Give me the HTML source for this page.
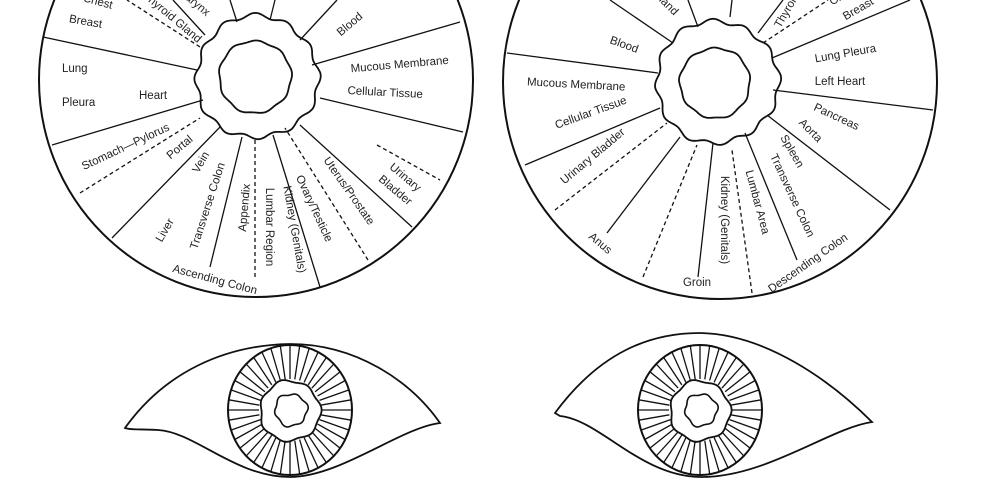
<!DOCTYPE html>
<html><head><meta charset="utf-8">
<style>
html,body{margin:0;padding:0;background:#fff;}
svg{display:block;}
text{font-family:"Liberation Sans",Arial,sans-serif;font-size:11.5px;fill:#222;}
</style></head>
<body>
<svg id="s" width="1001" height="480" viewBox="0 0 1001 480" xmlns="http://www.w3.org/2000/svg">
<defs>
<clipPath id="cl"><circle cx="256" cy="80" r="217"/></clipPath>
<clipPath id="cr"><circle cx="720" cy="82" r="217"/></clipPath>
</defs>
<g stroke="#111" fill="none" stroke-width="1.3">
<circle cx="256" cy="80" r="217" stroke-width="2"/>
<circle cx="720" cy="82" r="217" stroke-width="2"/>
<g clip-path="url(#cl)">
<line x1="43" y1="37" x2="197" y2="70"/>
<line x1="52" y1="145" x2="203" y2="100"/>
<line x1="80" y1="193" x2="200" y2="118" stroke-dasharray="4,3"/>
<line x1="112" y1="238" x2="220" y2="127"/>
<line x1="210" y1="267" x2="242" y2="137"/>
<line x1="255" y1="277" x2="255" y2="140" stroke-dasharray="4,3"/>
<line x1="320" y1="287" x2="273" y2="135"/>
<line x1="368" y1="260" x2="285" y2="128" stroke-dasharray="4,3"/>
<line x1="412" y1="227" x2="300" y2="125"/>
<line x1="463" y1="132" x2="320" y2="98"/>
<line x1="460" y1="22" x2="312" y2="65"/>
<line x1="300" y1="40" x2="337" y2="0"/>
<line x1="270" y1="20" x2="275" y2="0"/>
<line x1="237" y1="22" x2="230" y2="0"/>
<line x1="377" y1="145" x2="440" y2="180" stroke-dasharray="4,3"/>
<line x1="200" y1="47" x2="127" y2="0" stroke-dasharray="4,3"/>
<line x1="205" y1="35" x2="173" y2="0"/>
</g>
<g clip-path="url(#cr)">
<line x1="507" y1="53" x2="658" y2="73"/>
<line x1="525" y1="165" x2="660" y2="108"/>
<line x1="555" y1="210" x2="667" y2="123" stroke-dasharray="4,3"/>
<line x1="607" y1="233" x2="680" y2="137"/>
<line x1="643" y1="277" x2="697" y2="145" stroke-dasharray="4,3"/>
<line x1="698" y1="277" x2="713" y2="143"/>
<line x1="752" y1="293" x2="732" y2="150" stroke-dasharray="4,3"/>
<line x1="797" y1="260" x2="745" y2="133"/>
<line x1="890" y1="210" x2="767" y2="115"/>
<line x1="933" y1="110" x2="773" y2="90"/>
<line x1="910" y1="0" x2="772" y2="58"/>
<line x1="763" y1="43" x2="828" y2="0" stroke-dasharray="4,3"/>
<line x1="758" y1="33" x2="783" y2="0"/>
<line x1="730" y1="17" x2="732" y2="0"/>
<line x1="698" y1="27" x2="688" y2="0"/>
<line x1="673" y1="43" x2="610" y2="0"/>
</g>
<path d="M125,428 C165,372 225,345 290,344 C355,344 410,380 440,423 C400,428 340,477 290,477 C235,477 195,432 158,430 C140,429 130,430 125,428 Z" stroke-width="1.8"/>
<path d="M555,413 C600,352 650,333 700,333 C765,334 830,380 872,422 C830,428 765,478 700,477 C640,476 600,420 560,416 Z" stroke-width="1.8"/>
<g id="dyn"></g>
</g>
<g>
<text transform="translate(97,5) rotate(15)" text-anchor="middle">Chest</text>
<text transform="translate(85,25) rotate(10)" text-anchor="middle">Breast</text>
<text transform="translate(170,20) rotate(40)" text-anchor="middle">Thyroid Gland</text>
<text transform="translate(190,3) rotate(40)" text-anchor="middle">Pharynx</text>
<text transform="translate(352,27) rotate(-40)" text-anchor="middle">Blood</text>
<text x="62" y="72">Lung</text>
<text x="62" y="106">Pleura</text>
<text x="139" y="99">Heart</text>
<text transform="translate(400,68) rotate(-5)" text-anchor="middle">Mucous Membrane</text>
<text transform="translate(385,96) rotate(3)" text-anchor="middle">Cellular Tissue</text>
<text transform="translate(127,150) rotate(-25)" text-anchor="middle">Stomach—Pylorus</text>
<text transform="translate(182,150) rotate(-40)" text-anchor="middle">Portal</text>
<text transform="translate(204,164) rotate(-60)" text-anchor="middle">Vein</text>
<text transform="translate(211,207) rotate(-72)" text-anchor="middle">Transverse Colon</text>
<text transform="translate(168,232) rotate(-60)" text-anchor="middle">Liver</text>
<text transform="translate(248,208) rotate(-85)" text-anchor="middle">Appendix</text>
<text transform="translate(266,227) rotate(90)" text-anchor="middle">Lumbar Region</text>
<text transform="translate(291,230) rotate(80)" text-anchor="middle">Kidney (Genitals)</text>
<text transform="translate(311,210) rotate(65)" text-anchor="middle">Ovary/Testicle</text>
<text transform="translate(346,193) rotate(55)" text-anchor="middle">Uterus/Prostate</text>
<text transform="translate(403,180) rotate(40)" text-anchor="middle">Urinary</text>
<text transform="translate(393,193) rotate(40)" text-anchor="middle">Bladder</text>
<text transform="translate(214,283) rotate(15)" text-anchor="middle">Ascending Colon</text>

<text transform="translate(663,5) rotate(45)" text-anchor="middle">Gland</text>
<text transform="translate(623,48) rotate(20)" text-anchor="middle">Blood</text>
<text transform="translate(576,88) rotate(3)" text-anchor="middle">Mucous Membrane</text>
<text transform="translate(592,116) rotate(-20)" text-anchor="middle">Cellular Tissue</text>
<text transform="translate(595,159) rotate(-40)" text-anchor="middle">Urinary Bladder</text>
<text transform="translate(598,246) rotate(40)" text-anchor="middle">Anus</text>
<text x="697" y="286" text-anchor="middle">Groin</text>
<text transform="translate(721,220) rotate(90)" text-anchor="middle">Kidney (Genitals)</text>
<text transform="translate(754,203) rotate(75)" text-anchor="middle">Lumbar Area</text>
<text transform="translate(789,153) rotate(60)" text-anchor="middle">Spleen</text>
<text transform="translate(789,197) rotate(65)" text-anchor="middle">Transverse Colon</text>
<text transform="translate(810,266) rotate(-35)" text-anchor="middle">Descending Colon</text>
<text transform="translate(835,120) rotate(25)" text-anchor="middle">Pancreas</text>
<text transform="translate(808,133) rotate(45)" text-anchor="middle">Aorta</text>
<text transform="translate(846,57) rotate(-10)" text-anchor="middle">Lung Pleura</text>
<text x="840" y="85" text-anchor="middle">Left Heart</text>
<text transform="translate(860,12) rotate(-30)" text-anchor="middle">Breast</text>
<text transform="translate(845,-2) rotate(-30)" text-anchor="middle">Chest</text>
<text transform="translate(790,12) rotate(-60)" text-anchor="middle">Thyroid</text>
</g>
</svg>
<script>
(function(){
var g=document.getElementById('dyn'),NS='http://www.w3.org/2000/svg';
function add(tag,attrs){var e=document.createElementNS(NS,tag);for(var k in attrs)e.setAttribute(k,attrs[k]);g.appendChild(e);return e;}
function wavy(cx,cy,R,amp,n,seed,sw){var d='';for(var i=0;i<=180;i++){var t=i/180*Math.PI*2;var r=R+amp*Math.cos(n*t+seed)+amp*0.5*Math.sin(3*t+seed*2);var x=cx+r*Math.cos(t),y=cy+r*Math.sin(t);d+=(i?'L':'M')+x.toFixed(1)+','+y.toFixed(1);}add('path',{d:d+'Z','stroke-width':sw||1.6});}
wavy(257,77,61,2.2,12,0.3,1.8);wavy(255,77,36,0.8,9,1,1.8);
wavy(717,82,61,2.2,12,0.8,1.8);wavy(715,83,35,0.8,9,2,1.8);
function eye(cx,cy){
 add('ellipse',{cx:cx,cy:cy,rx:62,ry:65,'stroke-width':2});
 for(var i=0;i<40;i++){var t=i/40*Math.PI*2;
  add('line',{x1:(cx+31*Math.cos(t)).toFixed(1),y1:(cy+31*Math.sin(t)).toFixed(1),x2:(cx+62*Math.cos(t)).toFixed(1),y2:(cy+65*Math.sin(t)).toFixed(1),'stroke-width':1.3});}
 add('circle',{cx:cx,cy:cy+1,r:30,fill:'#fff',stroke:'none'});
 wavy(cx,cy+1,30,1.2,7,0.5,1.8);
 wavy(cx+1,cy,16,1,6,1.2,1.6);
}
eye(290,410);eye(700,410);
})();
</script>
</body></html>
